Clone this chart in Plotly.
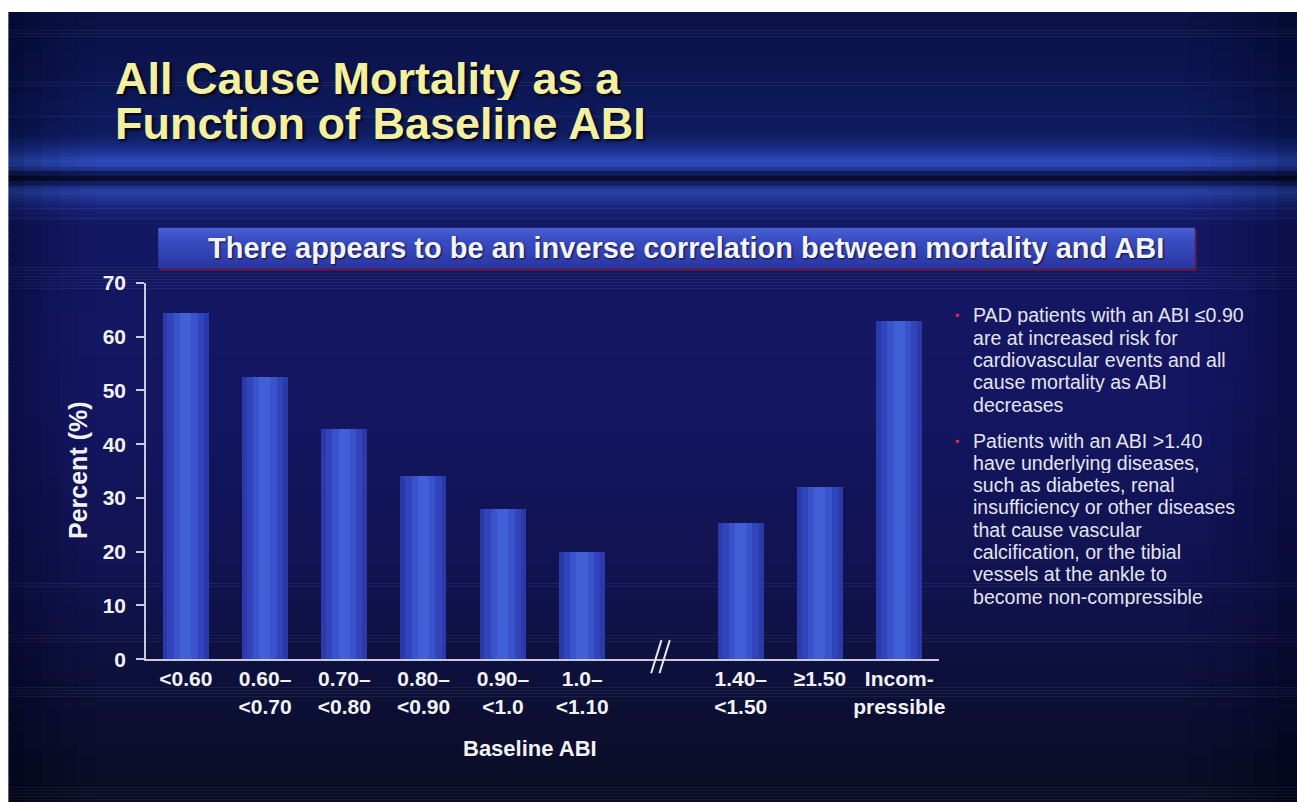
import plotly.graph_objects as go

# --- data -------------------------------------------------------------
categories = ["<0.60", "0.60–<br><0.70", "0.70–<br><0.80", "0.80–<br><0.90",
              "0.90–<br><1.0", "1.0–<br><1.10",
              "1.40–<br><1.50", "≥1.50", "Incom-<br>pressible"]
positions = [0, 1, 2, 3, 4, 5, 7, 8, 9]          # slot 6 holds the axis break
mortality = [64.4, 52.5, 42.8, 34.1, 27.9, 19.9, 25.3, 32.0, 62.9]
y_ticks = [0, 10, 20, 30, 40, 50, 60, 70]

# canvas size and the affine map from slide pixels to figure pixels
W, H = 1305, 813
SX, DX = 0.992, 2.3
SY, DY = 0.971, 12.3
FONT = "Liberation Sans, Arial, sans-serif"


def px_x(p):
    return ((p - DX) / SX) / W


def px_y(p):
    return 1 - ((p - DY) / SY) / H


def hex_to_rgb(h):
    h = h.lstrip("#")
    return tuple(int(h[i:i + 2], 16) for i in (0, 2, 4))


def mix(c1, c2, t):
    a, b = hex_to_rgb(c1), hex_to_rgb(c2)
    return "rgb(%d,%d,%d)" % tuple(round(a[i] + (b[i] - a[i]) * t) for i in range(3))


fig = go.Figure()

# cylindrical-looking bars: wide dark body, narrower lighter cores
for width, color in [(0.58, "#2a3aa8"), (0.46, "#3144bb"), (0.30, "#3a52cc"), (0.14, "#4260d6")]:
    fig.add_trace(go.Bar(
        x=positions, y=mortality, width=width,
        marker=dict(color=color, line=dict(width=0)),
        hoverinfo="skip", showlegend=False,
    ))

shapes = []

# slide background: vertical navy gradient with a white strip on the left
LEFT = 8.5 / W
stops = [
    (0, "#0a1244"), (70, "#0c1550"), (135, "#0f1c60"), (150, "#1b308c"),
    (163, "#2f4fc0"), (171, "#1d2e88"), (176, "#070b2c"), (181, "#0a1034"),
    (186, "#1c2e88"), (192, "#2944aa"), (205, "#1a2780"), (225, "#131862"),
    (400, "#141662"), (580, "#111350"), (690, "#0d1038"), (802, "#0a0d22"),
]
for (ya, ca), (yb, cb) in zip(stops[:-1], stops[1:]):
    n = max(1, int((yb - ya) / 3))
    for k in range(n):
        y0 = ya + (yb - ya) * k / n
        y1 = ya + (yb - ya) * (k + 1) / n
        top = min(1, px_y(y0))
        bottom = max(0, px_y(y1 + 0.6))
        if top <= bottom:
            continue
        shapes.append(dict(type="rect", xref="paper", yref="paper",
                           x0=LEFT, x1=1, y0=bottom, y1=top,
                           fillcolor=mix(ca, cb, (k + 0.5) / n),
                           line=dict(width=0), layer="below"))

# darker side vignettes
for i, a in enumerate([0.10, 0.08, 0.06, 0.04, 0.02]):
    shapes.append(dict(type="rect", xref="paper", yref="paper",
                       x0=LEFT, x1=px_x(8 + 18 * (i + 1)), y0=0, y1=1,
                       fillcolor="rgba(0,0,10,%.2f)" % a, line=dict(width=0), layer="below"))
    shapes.append(dict(type="rect", xref="paper", yref="paper",
                       x0=px_x(1297 - 22 * (i + 1)), x1=1, y0=0, y1=1,
                       fillcolor="rgba(0,0,10,%.2f)" % a, line=dict(width=0), layer="below"))

# headline banner
bx0, bx1, by0, by1 = 160, 1193, 228, 268
shapes.append(dict(type="rect", xref="paper", yref="paper",
                   x0=px_x(bx0 + 2), x1=px_x(bx1 + 2), y0=px_y(by1 + 3), y1=px_y(by0 + 2),
                   fillcolor="#5a1a48", line=dict(width=0), layer="below"))
bstops = [(by0, "#4a5fd0"), (by0 + 12, "#3a4ec4"), (by1, "#2a36a0")]
for (ya, ca), (yb, cb) in zip(bstops[:-1], bstops[1:]):
    n = max(1, int(yb - ya) // 2)
    for k in range(n):
        y0 = ya + (yb - ya) * k / n
        y1 = ya + (yb - ya) * (k + 1) / n
        shapes.append(dict(type="rect", xref="paper", yref="paper",
                           x0=px_x(bx0), x1=px_x(bx1), y0=px_y(y1 + 0.6), y1=px_y(y0),
                           fillcolor=mix(ca, cb, (k + 0.5) / n),
                           line=dict(width=0), layer="below"))

# axis break marks at slot 6
for xb, xt in [(5.87, 6.0), (5.975, 6.105)]:
    shapes.append(dict(type="line", xref="x", yref="paper",
                       x0=xb, x1=xt, y0=px_y(673), y1=px_y(640),
                       line=dict(color="#e6e8f2", width=2), layer="above"))

annotations = []

# slide title
for text, ycen in [("All Cause Mortality as a", 78), ("Function of Baseline ABI", 123)]:
    annotations.append(dict(
        text=text, xref="paper", yref="paper", x=px_x(115), y=px_y(ycen),
        xanchor="left", yanchor="middle", height=44, valign="middle", showarrow=False,
        font=dict(family=FONT, size=45, color="#f4f0a2", weight="bold",
                  shadow="2px 2px 3px rgba(0,0,0,0.85)"),
    ))

# banner caption
annotations.append(dict(
    text="There appears to be an inverse correlation between mortality and ABI",
    xref="paper", yref="paper", x=px_x(686), y=px_y(248),
    xanchor="center", yanchor="middle", showarrow=False,
    font=dict(family=FONT, size=29, color="#f4f4fa", weight="bold",
              shadow="1px 1px 2px rgba(0,0,30,0.8)"),
))

# axis titles
annotations.append(dict(
    text="Percent (%)", xref="paper", yref="paper", x=px_x(80), y=px_y(470),
    xanchor="center", yanchor="middle", textangle=-90, showarrow=False,
    font=dict(family=FONT, size=25, color="#f2f2f6", weight="bold"),
))
annotations.append(dict(
    text="Baseline ABI", xref="paper", yref="paper", x=px_x(530), y=px_y(748),
    xanchor="center", yanchor="middle", showarrow=False,
    font=dict(family=FONT, size=22, color="#f2f2f6", weight="bold"),
))

# side notes, one annotation per line for a tight line pitch
notes = [
    (315, ["PAD patients with an ABI ≤0.90", "are at increased risk for",
           "cardiovascular events and all", "cause mortality as ABI", "decreases"]),
    (440, ["Patients with an ABI >1.40", "have underlying diseases,",
           "such as diabetes, renal", "insufficiency or other diseases",
           "that cause vascular", "calcification, or the tibial",
           "vessels at the ankle to", "become non-compressible"]),
]
for yfirst, lines in notes:
    for i, line in enumerate(lines):
        annotations.append(dict(
            text=line, xref="paper", yref="paper",
            x=px_x(970), y=px_y(yfirst + 22.3 * i), xanchor="left", yanchor="middle",
            height=21, valign="middle", showarrow=False,
            font=dict(family=FONT, size=19.6, color="#e4e4ee"),
        ))
    annotations.append(dict(
        text="•", xref="paper", yref="paper", x=px_x(957), y=px_y(yfirst + 1),
        xanchor="center", yanchor="middle", showarrow=False,
        font=dict(family=FONT, size=13, color="#d8303a"),
    ))

fig.update_layout(
    width=W, height=H, autosize=False,
    margin=dict(l=0, r=0, t=0, b=0),
    paper_bgcolor="#ffffff", plot_bgcolor="rgba(0,0,0,0)",
    barmode="overlay", bargap=0,
    shapes=shapes, annotations=annotations,
    font=dict(family=FONT, color="#f2f2f6"),
    xaxis=dict(
        domain=[px_x(148), px_x(938)], range=[-0.5, 9.5],
        tickvals=positions, ticktext=categories,
        tickfont=dict(family=FONT, size=21, color="#f2f2f6", weight="bold"),
        showgrid=False, zeroline=False,
        showline=True, linecolor="#c8cadc", linewidth=2,
        ticks="", fixedrange=True,
    ),
    yaxis=dict(
        domain=[px_y(659), px_y(283)], range=[0, 70],
        tickvals=y_ticks,
        tickfont=dict(family=FONT, size=21, color="#f2f2f6", weight="bold"),
        showgrid=False, zeroline=False,
        showline=True, linecolor="#c8cadc", linewidth=2,
        ticks="outside", ticklen=8, tickwidth=2, tickcolor="#c8cadc",
        ticklabelstandoff=6, fixedrange=True,
    ),
)

fig.write_html("out.html", config={"displayModeBar": False})
